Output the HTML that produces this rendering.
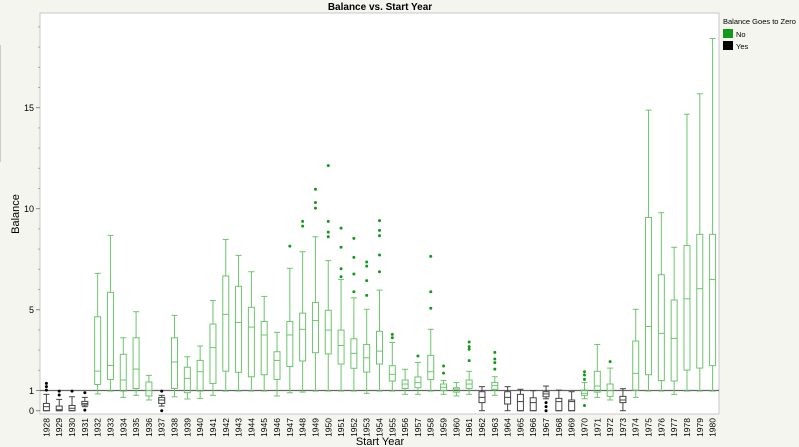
<!DOCTYPE html>
<html><head><meta charset="utf-8"><style>
body{margin:0;background:#f5f5f0;font-family:"Liberation Sans",sans-serif;}
svg{display:block}
</style></head><body>
<svg id="chart" width="799" height="447">
<rect x="0" y="0" width="799" height="447" fill="#f5f5f0"/>
<line x1="0.5" y1="45" x2="0.5" y2="162" stroke="#ccc"/>
<text x="380" y="10" font-size="10" font-weight="bold" text-anchor="middle">Balance vs. Start Year</text>
<rect x="40" y="13" width="679" height="401" fill="#fff" stroke="#c8c8c8"/>
<g id="yaxis"></g>
<g id="xaxis"></g>
<line id="ref" stroke="#666" stroke-width="1.2"/>
<g id="marks"></g>
<text x="0" y="0" font-size="11" text-anchor="middle" transform="translate(19,214) rotate(-90)">Balance</text>
<text x="380" y="445" font-size="11" text-anchor="middle">Start Year</text>
<g>
<text x="723" y="24" font-size="7.5">Balance Goes to Zero</text>
<rect x="723" y="29" width="10" height="9" fill="#129a1a"/>
<text x="736" y="37" font-size="7.5">No</text>
<rect x="723" y="41" width="10" height="9" fill="#000"/>
<text x="736" y="49" font-size="7.5">Yes</text>
</g>
</svg>
<script>
const years=[1928,1929,1930,1931,1932,1933,1934,1935,1936,1937,1938,1939,1940,1941,1942,1943,1944,1945,1946,1947,1948,1949,1950,1951,1952,1953,1954,1955,1956,1957,1958,1959,1960,1961,1962,1963,1964,1965,1966,1967,1968,1969,1970,1971,1972,1973,1974,1975,1976,1977,1978,1979,1980];
const groups=["Y","Y","Y","Y","N","N","N","N","N","Y","N","N","N","N","N","N","N","N","N","N","N","N","N","N","N","N","N","N","N","N","N","N","N","N","Y","N","Y","Y","Y","Y","Y","Y","N","N","N","Y","N","N","N","N","N","N","N"];
const lows=[0,0,0,0.2,0.83,0.97,0.66,0.76,0.53,0.23,0.69,0.58,0.61,0.76,0.97,0.97,0.97,0.97,0.73,0.89,0.92,0.97,0.97,0.97,0.97,0.86,0.97,0.97,0.81,0.81,0.97,0.81,0.73,0.81,0,0.76,0,0,0,0.59,0,0,0.59,0.66,0.53,0,0.66,0.97,0.97,0.81,0.97,0.97,0.97];
const q1s=[0,0,0,0.28,1.3,1.55,0.97,1.1,0.73,0.36,1.1,0.89,0.97,1.35,1.96,1.9,1.68,1.78,1.55,2.19,2.46,2.87,2.81,2.31,2.1,1.91,2.31,1.47,1.1,1.14,1.55,0.99,0.92,1.1,0.4,1.06,0.33,0,0,0.69,0,0,0.76,0.92,0.71,0.4,1.02,1.78,1.49,1.47,2.01,2.11,2.23];
const medians=[0.2,0.05,0.12,0.35,1.96,2.24,1.52,2.06,1.0,0.53,2.41,1.6,1.93,3.12,4.77,4.37,4.14,3.75,2.49,3.75,4.03,4.46,3.99,3.23,2.84,2.62,2.95,1.8,1.32,1.39,1.93,1.16,1.07,1.32,0.66,1.24,0.66,0.45,0.4,0.83,0.45,0.45,0.86,1.22,0.99,0.53,1.85,4.17,3.83,3.58,5.54,6.04,6.5];
const q3s=[0.36,0.23,0.26,0.46,4.65,5.86,2.79,3.61,1.42,0.66,3.61,2.15,2.49,4.29,6.67,6.16,5.12,4.42,2.92,4.42,4.83,5.36,4.97,3.99,3.56,3.28,3.93,2.23,1.52,1.67,2.74,1.32,1.14,1.52,0.94,1.4,0.94,0.81,0.64,0.94,0.61,0.53,1.02,1.95,1.32,0.71,3.45,9.57,6.73,5.48,8.18,8.73,8.73];
const highs=[0.81,0.56,0.69,0.66,6.8,8.68,3.61,4.9,1.75,0.76,4.72,2.67,3.2,5.45,8.48,7.69,6.88,5.66,3.88,7.05,7.87,8.61,7.43,6.5,5.59,5.02,5.97,3.38,2.05,2.39,4.03,1.5,1.39,1.95,1.19,1.68,1.19,1.06,0.99,1.22,1.02,0.94,1.4,3.28,2.11,1.09,5.02,14.88,9.8,8.09,14.68,15.69,18.43];
const outliers=[[1.35,1.19,1.02],[0.97,0.78],[0.97],[0.89,0.03],[],[],[],[],[],[0.97,0],[],[],[],[],[],[],[],[],[],[8.15],[9.37,9.14],[10.96,10.31,10.03],[12.13,9.37,8.84,8.61],[9.04,8.09,7.03,6.63],[8.53,7.59,6.77,5.89],[7.36,7.16,6.44,5.71],[9.41,8.93,8.66,7.71,6.88],[3.78,3.61],[],[2.71],[7.64,5.89,5.07],[2.21,1.86],[],[3.4,3.17,3.04,2.48],[],[2.89,2.56,2.38,2.06],[],[],[],[0.4,0.2,0],[],[],[1.93,1.77,1.55,0.26],[],[2.43],[],[],[],[],[],[],[],[]];
const yTicks=[0,1,5,10,15];
const refValue=1;

const NS="http://www.w3.org/2000/svg";
const X0=40,BW=679/years.length;
function xc(i){return X0+BW*(i+0.5);}
function yv(v){return 410.7-v*20.2;}
function mk(tag,attrs,parent){const e=document.createElementNS(NS,tag);for(const k in attrs)e.setAttribute(k,attrs[k]);parent.appendChild(e);return e;}
const ya=document.getElementById('yaxis'),xa=document.getElementById('xaxis'),mg=document.getElementById('marks');
yTicks.forEach(t=>{
  const l=mk('line',{x1:36,x2:40,y1:yv(t),y2:yv(t),stroke:'#888'},ya);
  
  
  const tx=mk('text',{x:34,y:yv(t)+3.5,'font-size':9,'text-anchor':'end'},ya);
  tx.textContent=t;
  
  
});
for(let v=0;v<=19;v++){if(yTicks.includes(v))continue;
  const l=mk('line',{x1:38,x2:40,y1:yv(v),y2:yv(v),stroke:'#aaa'},ya);
  
  }
const ref=document.getElementById('ref');
ref.setAttribute('x1',40);ref.setAttribute('x2',719);ref.setAttribute('y1',yv(refValue));ref.setAttribute('y2',yv(refValue));
years.forEach((yr,i)=>{
  const x=xc(i);
  const tx=mk('text',{x:0,y:0,'font-size':8.5,'text-anchor':'end',transform:`translate(${x+3},418) rotate(-90)`},xa);
  tx.textContent=yr;
  
  
  const yes=groups[i]==='Y';
  const col=yes?'#444':'#6cc56c', dot=yes?'#000':'#129a1a';
  const g=mk('g',{stroke:col,fill:'none','stroke-width':1},mg);
  
  
  const hw=3;
  mk('line',{x1:x,x2:x,y1:yv(highs[i]),y2:yv(q3s[i])},g);
  mk('line',{x1:x,x2:x,y1:yv(q1s[i]),y2:yv(lows[i])},g);
  mk('line',{x1:x-hw,x2:x+hw,y1:yv(highs[i]),y2:yv(highs[i])},g);
  mk('line',{x1:x-hw,x2:x+hw,y1:yv(lows[i]),y2:yv(lows[i])},g);
  mk('rect',{x:x-hw,y:yv(q3s[i]),width:2*hw,height:Math.max(0.5,yv(q1s[i])-yv(q3s[i]))},g);
  mk('line',{x1:x-hw,x2:x+hw,y1:yv(medians[i]),y2:yv(medians[i])},g);
  outliers[i].forEach(o=>{
    const c=mk('circle',{cx:x,cy:yv(o),r:1.5,fill:dot,stroke:'none'},mg);
    
    
  });
});
</script>
</body></html>
